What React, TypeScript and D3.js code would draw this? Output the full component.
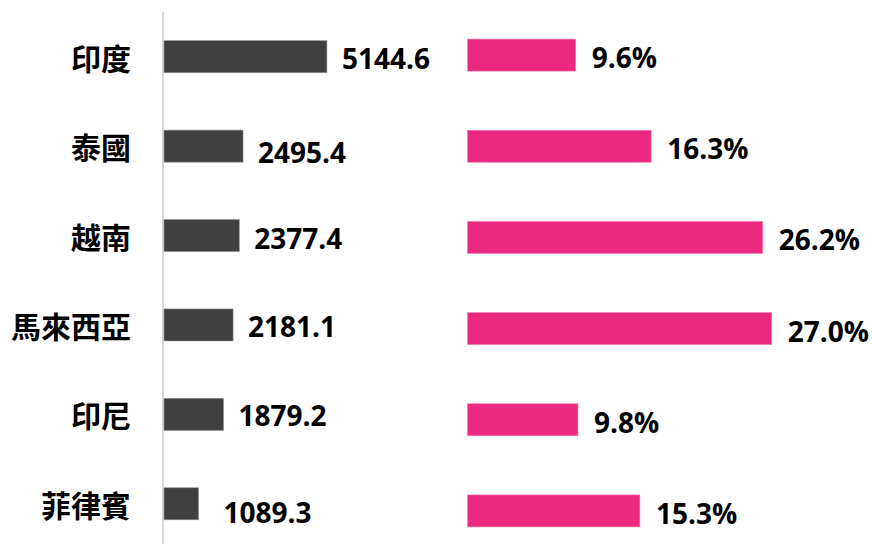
import React from 'react';
import * as d3 from 'd3';

// data
const categories = ['印度', '泰國', '越南', '馬來西亞', '印尼', '菲律賓'];
const amounts = [5144.6, 2495.4, 2377.4, 2181.1, 1879.2, 1089.3];
const shares = [9.6, 16.3, 26.2, 27.0, 9.8, 15.3];

// manual label nudges, like the hand-moved labels in the original
const leftNudgeX = [0, 0, 0, 0, 0, 10];
const leftNudgeY = [1, 6, 2, 1, 1, 8];

const W = 872;
const H = 544;

const App = () => {
  const yLeft = d3.scaleBand<string>()
    .domain(categories)
    .range([12, 548.5])
    .paddingInner(0.642)
    .paddingOuter(0.321);

  const yRight = d3.scaleBand<string>()
    .domain(categories)
    .range([9.5, 556.5])
    .paddingInner(0.649)
    .paddingOuter(0.3245);

  const xLeft = d3.scaleLinear().domain([0, 6000]).range([164, 354]);
  const xRight = d3.scaleLinear().domain([0, 30]).range([467.5, 805.5]);

  const fmtAmt = d3.format('.1f');
  const fmtPct = (v: number) => d3.format('.1f')(v) + '%';

  const valueFont = '"Open Sans", Lato, sans-serif';
  const catFont = '"Noto Sans CJK TC", "Noto Sans CJK SC", sans-serif';

  return (
    <div style={{ position: 'fixed', left: 0, top: 0, background: '#fff' }}>
      <svg width={W} height={H} style={{ display: 'block' }}>
        {/* category axis line */}
        <line x1={163} x2={163} y1={12} y2={H} stroke="#d9d9d9" strokeWidth={2} />

        {categories.map((c, i) => {
          const y = yLeft(c)!;
          const bw = yLeft.bandwidth();
          return (
            <g key={'l' + c}>
              <text
                x={131}
                y={y + bw / 2}
                textAnchor="end"
                dominantBaseline="central"
                fontFamily={catFont}
                fontWeight={700}
                fontSize={30}
                fill="#000"
              >
                {c}
              </text>
              <rect
                x={xLeft(0)}
                y={y}
                width={xLeft(amounts[i]) - xLeft(0)}
                height={bw}
                fill="#404040"
                stroke="#8c8c8c"
                strokeWidth={0.6}
              />
              <text
                x={xLeft(amounts[i]) + 15 + leftNudgeX[i]}
                y={y + bw / 2 + leftNudgeY[i]}
                dominantBaseline="central"
                fontFamily={valueFont}
                fontWeight={700}
                fontSize={28}
                fill="#000"
              >
                {fmtAmt(amounts[i])}
              </text>
            </g>
          );
        })}

        {categories.map((c, i) => {
          const y = yRight(c)!;
          const bw = yRight.bandwidth();
          return (
            <g key={'r' + c}>
              <rect
                x={xRight(0)}
                y={y}
                width={xRight(shares[i]) - xRight(0)}
                height={bw}
                fill="#eb2a7f"
                stroke="#f27aae"
                strokeWidth={0.6}
              />
              <text
                x={xRight(shares[i]) + 16}
                y={y + bw / 2 + 2}
                dominantBaseline="central"
                fontFamily={valueFont}
                fontWeight={700}
                fontSize={28}
                fill="#000"
              >
                {fmtPct(shares[i])}
              </text>
            </g>
          );
        })}
      </svg>
    </div>
  );
};

export default App;
